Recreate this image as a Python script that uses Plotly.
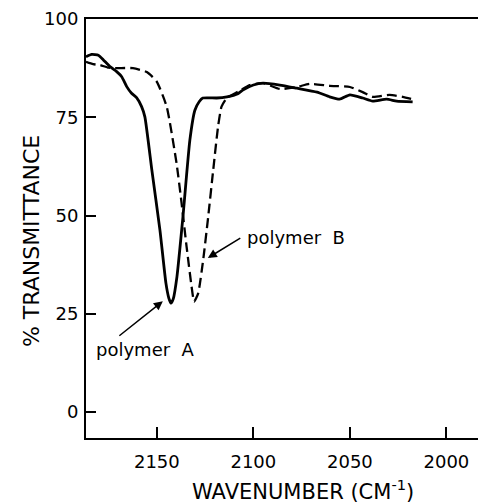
import plotly.graph_objects as go

# Polymer A (solid)
a_x = [2186.7, 2183.8, 2180.3, 2177.7, 2174.3, 2170.8, 2168.2, 2165.6, 2163.1, 2160.5, 2157.9,
       2156.2, 2152.6, 2148.4, 2145.3, 2143.8, 2142.7, 2141.5, 2139.6, 2136.5, 2132.9, 2130.3,
       2128.0, 2126.2, 2119, 2113.7, 2108, 2105.5, 2100, 2095, 2086.3, 2077.5, 2067, 2060.5,
       2055.3, 2050, 2043.4, 2038.2, 2031, 2025.8, 2017.5]
a_y = [90.4, 91.0, 90.8, 89.6, 87.9, 86.6, 85.3, 82.8, 81.1, 80.0, 77.7,
       75.1, 61.6, 46.3, 32.8, 29.0, 27.7, 28.8, 34.4, 49.6, 69.2, 76.8,
       79.0, 79.9, 79.9, 80.2, 81.0, 81.9, 83.2, 83.7, 83.2, 82.4, 81.4, 80.2,
       79.6, 80.7, 79.9, 79.1, 79.6, 79.1, 78.9]

# Polymer B (dashed)
b_x = [2186.7, 2183, 2179.5, 2175, 2170.7, 2162.4, 2155.2, 2150.1, 2144.9, 2139.8, 2137.2,
       2134.6, 2132.0, 2130.7, 2128.6, 2126.0, 2123.4, 2120.8, 2118.3, 2116.5, 2113.9, 2108,
       2101.9, 2095, 2086.3, 2077.5, 2070.8, 2060.5, 2050, 2043.4, 2038.2, 2029.4, 2022.7, 2017.5]
b_y = [89.1, 88.5, 88.3, 87.6, 87.5, 87.5, 86.5, 84.1, 77.7, 63.3, 53.2,
       42.1, 31.9, 28.1, 30.2, 38.7, 49.7, 61.6, 72.6, 77.7, 79.8, 81.5,
       83.2, 83.7, 82.2, 82.7, 83.5, 83.0, 82.7, 81.4, 80.2, 80.7, 80.2, 79.6]

x_ticks = [2150, 2100, 2050, 2000]
y_ticks = [0, 25, 50, 75, 100]

FONT = "DejaVu Sans"

fig = go.Figure()
fig.add_trace(go.Scatter(x=a_x, y=a_y, mode="lines",
                         line=dict(color="black", width=2.8, shape="spline", smoothing=0.5),
                         showlegend=False, hoverinfo="skip"))
fig.add_trace(go.Scatter(x=b_x, y=b_y, mode="lines",
                         line=dict(color="black", width=2.3, dash="10px,5px", shape="spline", smoothing=0.5),
                         showlegend=False, hoverinfo="skip"))

fig.update_layout(
    width=478, height=495,
    margin=dict(l=78, r=0, t=11, b=65, autoexpand=False),
    paper_bgcolor="white", plot_bgcolor="white",
    font=dict(family=FONT, size=18, color="black"),
    xaxis=dict(range=[2186.7, 1979.5], tickvals=x_ticks, ticks="inside", ticklen=11, tickwidth=1.5,
               tickcolor="black", showline=True, linewidth=2, linecolor="black", mirror=True,
               showgrid=False, zeroline=False, ticklabelstandoff=6, tickfont=dict(size=18),
               automargin=False),
    yaxis=dict(range=[-6.6, 100], tickvals=y_ticks, ticks="inside", ticklen=10, tickwidth=1.5,
               tickcolor="black", showline=True, linewidth=2, linecolor="black",
               showgrid=False, zeroline=False, ticklabelstandoff=2, tickfont=dict(size=18),
               automargin=False),
    annotations=[
        dict(text="% TRANSMITTANCE", xref="paper", yref="paper", x=-0.1375, y=0.47,
             xanchor="center", yanchor="middle",
             textangle=-90, showarrow=False, font=dict(size=22)),
        dict(text="WAVENUMBER (CM<sup>-1</sup>)", xref="paper", yref="paper", x=0.5425, y=-0.124,
             xanchor="center", yanchor="middle", showarrow=False, font=dict(size=21)),
        dict(text="polymer&nbsp; A", x=2155.7, y=15.8, xref="x", yref="y", showarrow=False, font=dict(size=18)),
        dict(text="polymer&nbsp; B", x=2078.1, y=44.5, xref="x", yref="y", showarrow=False, font=dict(size=18)),
        dict(text="", x=2146.9, y=28.2, ax=2170.2, ay=19.1, xref="x", yref="y", axref="x", ayref="y",
             showarrow=True, arrowhead=2, arrowsize=1.2, arrowwidth=1.5, arrowcolor="black"),
        dict(text="", x=2123.6, y=39.2, ax=2106, ay=44.5, xref="x", yref="y", axref="x", ayref="y",
             showarrow=True, arrowhead=2, arrowsize=1.2, arrowwidth=1.5, arrowcolor="black"),
    ],
)

fig.write_html("out.html")
